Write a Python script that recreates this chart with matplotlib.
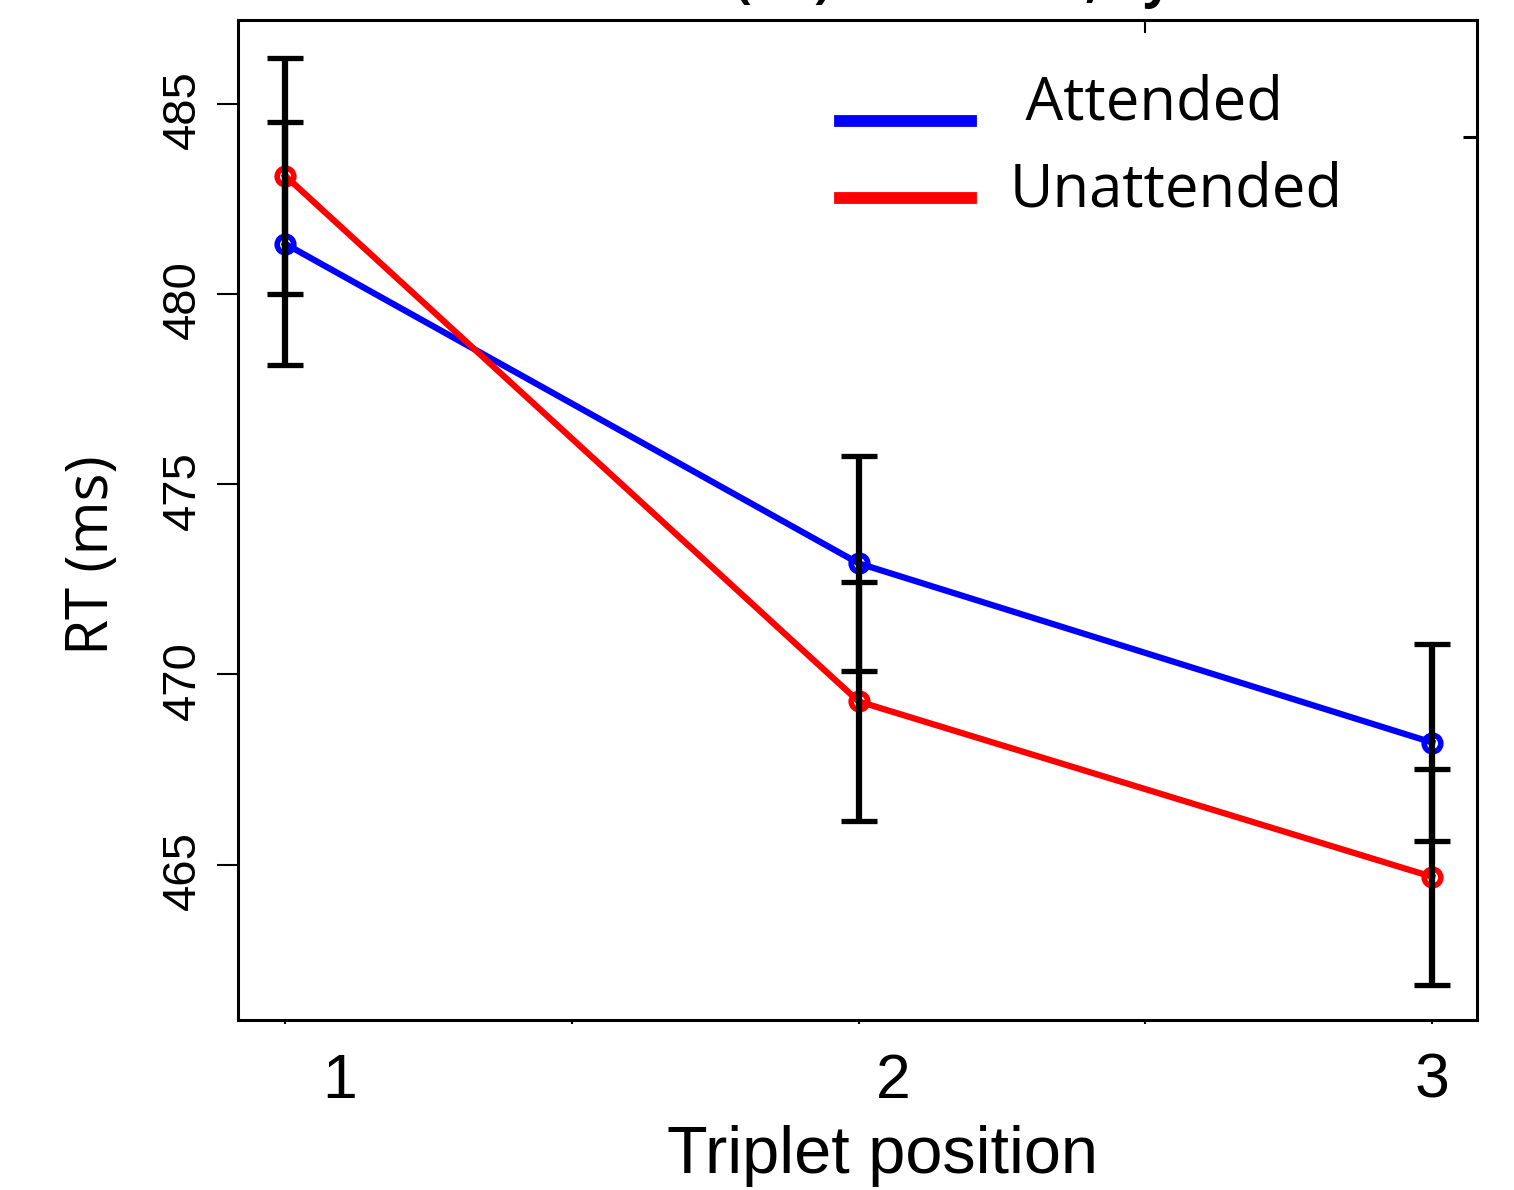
import matplotlib
matplotlib.use("Agg")
from matplotlib import pyplot as plt
from matplotlib import transforms

positions = [1, 2, 3]
attended = [481.32, 472.92, 468.21]
attended_err = [3.2, 2.82, 2.58]
unattended = [483.11, 469.29, 464.68]
unattended_err = [3.1, 3.13, 2.84]
xtick_labels = ["1", "2", "3"]
ytick_vals = [465, 470, 475, 480, 485]

fig = plt.figure(figsize=(15.14, 11.9), dpi=100)
ax = fig.add_axes([0.1572, 0.1429, 0.8184, 0.8403])

ax.plot(positions, attended, '-o', color='blue', lw=4.5, ms=12, mew=4,
        mfc='none', label=" Attended", zorder=2)
ax.plot(positions, unattended, '-o', color='red', lw=4.5, ms=12, mew=4,
        mfc='none', label="Unattended", zorder=2)
ax.errorbar(positions, attended, yerr=attended_err, fmt='none', ecolor='black',
            elinewidth=4.5, capsize=13, capthick=3.8, zorder=3)
ax.errorbar(positions, unattended, yerr=unattended_err, fmt='none', ecolor='black',
            elinewidth=4.5, capsize=13, capthick=3.8, zorder=3)

ax.set_xlim(0.918, 3.078)
ax.set_ylim(460.92, 487.2)

for s in ax.spines.values():
    s.set_linewidth(2.2)

# x ticks: tiny outward marks, labels placed as text
ax.set_xticks([1, 1.5, 2, 2.5, 3])
ax.set_xticklabels([])
ax.tick_params(axis='x', direction='out', length=3, width=1.5)
label_x = [1.096, 2.061, 3.0]
trans = transforms.blended_transform_factory(ax.transData, ax.transAxes)
for xp, lab in zip(label_x, xtick_labels):
    ax.text(xp, -0.032, lab, transform=trans, ha='center', va='top',
            fontsize=45, family='Liberation Sans')

# y ticks, rotated labels
ax.set_yticks(ytick_vals)
ax.set_yticklabels([str(v) for v in ytick_vals], rotation=90, va='center',
                   fontsize=34, family='Liberation Sans')
ax.tick_params(axis='y', direction='out', length=15, width=1.5, pad=9)
off = transforms.ScaledTranslation(0, -6 / 100, fig.dpi_scale_trans)
for lab in ax.get_yticklabels():
    lab.set_transform(lab.get_transform() + off)

ax.set_xlabel("Triplet position", fontsize=48, family='Liberation Sans')
ax.xaxis.set_label_coords(0.52, -0.105)
ax.set_ylabel("RT (ms)", fontsize=42, family='Open Sans')
ax.yaxis.set_label_coords(-0.094, 0.465)

# stray ticks on top and right
axr = ax.twinx()
axr.set_ylim(ax.get_ylim())
axr.set_yticks([484.13])
axr.set_yticklabels([])
axr.tick_params(axis='y', direction='in', length=10, width=2.2)
axt = ax.twiny()
axt.set_xlim(ax.get_xlim())
axt.set_xticks([2.5])
axt.set_xticklabels([])
axt.tick_params(axis='x', direction='in', length=9, width=1.5)
for a in (axr, axt):
    for s in a.spines.values():
        s.set_visible(False)

leg = ax.legend(loc='upper right', bbox_to_anchor=(0.935, 1.0), frameon=False,
                prop={'family': 'Open Sans', 'size': 43}, handlelength=2.2,
                handletextpad=0.65, labelspacing=0.45)
for h, dy in zip(leg.get_lines(), [22, 12]):
    h.set_linewidth(8.5)
    h.set_marker('')
    h.set_transform(h.get_transform() + transforms.ScaledTranslation(0, -dy / 100, fig.dpi_scale_trans))

# title mostly cut off at the top edge
fig.text(735 / 1514, 1 + 3 / 1190, "(RT) Attention, by order", ha='left', va='baseline',
         fontsize=36, family='Open Sans', fontweight='bold')

plt.savefig("out.png", dpi=100)
